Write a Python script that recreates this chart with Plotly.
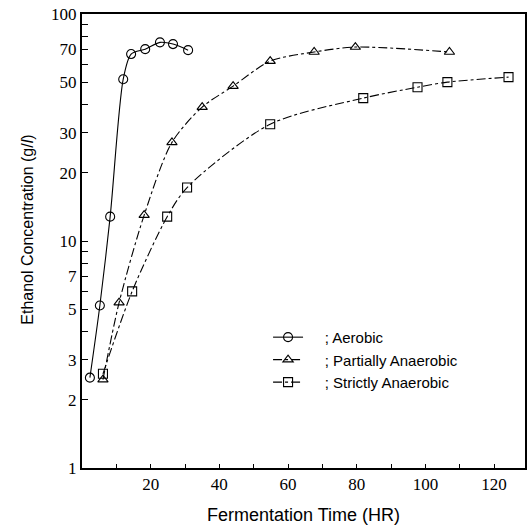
import plotly.graph_objects as go

# Data
aer_x = [2.3, 5.2, 8.2, 12.0, 14.3, 18.4, 22.7, 26.5, 30.9]
aer_y = [2.5, 5.2, 12.8, 51.6, 66.6, 70.0, 75.0, 73.7, 69.3]

part_x = [6.1, 10.8, 18.1, 26.2, 35.0, 44.0, 54.8, 67.6, 79.6, 107.0]
part_y = [2.45, 5.35, 13.0, 27.2, 38.9, 48.1, 62.0, 68.0, 71.5, 68.0]

strict_x = [6.1, 14.6, 24.8, 30.6, 54.8, 81.9, 97.7, 106.4, 124.2]
strict_y = [2.6, 6.0, 12.8, 17.2, 32.7, 42.6, 47.6, 50.1, 52.7]

names = ["; Aerobic", "; Partially Anaerobic", "; Strictly Anaerobic"]

y_tickvals = [1, 2, 3, 4, 5, 6, 7, 8, 9, 10, 20, 30, 40, 50, 60, 70, 80, 90, 100]
y_ticktext = ["1", "2", "3", "", "5", "", "7", "", "", "10", "20", "30", "", "50", "", "70", "", "", "100"]
x_tickvals = [10, 20, 30, 40, 50, 60, 70, 80, 90, 100, 110, 120]
x_ticktext = ["", "20", "", "40", "", "60", "", "80", "", "100", "", "120"]

SERIF = "Liberation Serif"
PAD = "\u00a0" * 4

fig = go.Figure()
series = [
    (aer_x, aer_y, names[0], "circle-open", "solid"),
    (part_x, part_y, names[1], "triangle-up-open", "dashdot"),
    (strict_x, strict_y, names[2], "square-open", "dashdot"),
]
for xs, ys, nm, sym, dash in series:
    fig.add_trace(go.Scatter(
        x=xs, y=ys, name=PAD + nm, mode="lines+markers",
        line=dict(color="black", width=1.1, dash=dash, shape="spline", smoothing=0.8),
        marker=dict(symbol=sym, size=9, color="black", line=dict(width=1.1, color="black")),
    ))

fig.update_layout(
    width=529, height=527,
    margin=dict(l=82, r=4, t=14, b=59, autoexpand=False),
    paper_bgcolor="white", plot_bgcolor="white",
    font=dict(family="Liberation Sans", color="black", size=14),
    legend=dict(x=0.42, y=0.324, xanchor="left", yanchor="top",
                bgcolor="rgba(0,0,0,0)", font=dict(family="Liberation Sans", size=15),
                itemwidth=30, tracegroupgap=0),
    showlegend=True,
    annotations=[dict(
        text="Ethanol Concentration (g/<i>l</i>)", textangle=-90,
        xref="paper", yref="paper", x=-0.125, y=0.524,
        xanchor="center", yanchor="middle", showarrow=False,
        font=dict(family="Liberation Sans", size=16),
    )],
)
fig.update_xaxes(
    range=[0, 129], showgrid=False, zeroline=False, automargin=False,
    showline=True, linecolor="black", linewidth=2, mirror=True,
    ticks="inside", ticklen=4, tickcolor="black",
    tickvals=x_tickvals, ticktext=x_ticktext,
    tickfont=dict(family=SERIF, size=17),
    title=dict(text="Fermentation Time (HR)", font=dict(family="Liberation Sans", size=18)),
)
fig.update_yaxes(
    type="log", range=[0, 2], showgrid=False, zeroline=False, automargin=False,
    showline=True, linecolor="black", linewidth=2, mirror=True,
    ticks="inside", ticklen=6, tickcolor="black",
    tickvals=y_tickvals, ticktext=y_ticktext,
    tickfont=dict(family=SERIF, size=17),
)

fig.write_html("out.html", config={"displayModeBar": False},
               post_script="document.body.style.margin='0';document.body.style.overflow='hidden';")
